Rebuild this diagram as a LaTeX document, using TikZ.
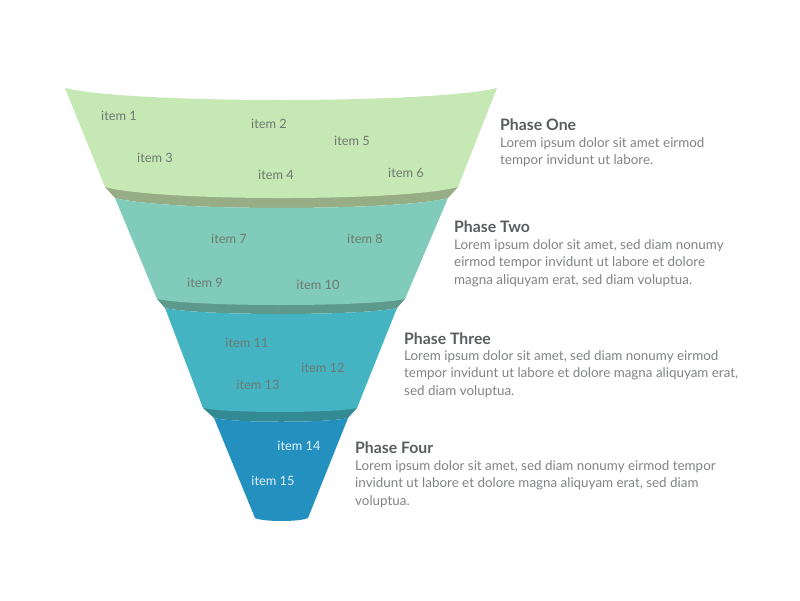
\documentclass[tikz,border=0pt]{standalone}
\usepackage{fontspec}
\setmainfont{Lato}
\usepackage{tikz}

\definecolor{segone}{HTML}{C6E8B4}
\definecolor{bandone}{HTML}{97AD86}
\definecolor{segtwo}{HTML}{80CBB9}
\definecolor{bandtwo}{HTML}{5E9A8B}
\definecolor{segthree}{HTML}{44B3C2}
\definecolor{bandthree}{HTML}{338A92}
\definecolor{segfour}{HTML}{2390C0}
\definecolor{itemgray}{HTML}{6E7A72}
\definecolor{titlegray}{HTML}{5A5D60}
\definecolor{bodygray}{HTML}{808285}

\begin{document}
\begin{tikzpicture}[x=1pt,y=-1pt,
  itemtxt/.style={inner sep=0pt,text=itemgray,font=\fontsize{12.8}{15}\selectfont},
  phasetitle/.style={anchor=base west,inner sep=0pt,text=titlegray,font=\fontsize{15.8}{18}\selectfont\bfseries},
  phasebody/.style={anchor=base west,inner sep=0pt,align=left,text=bodygray,font=\fontsize{13.4}{17.5}\selectfont}]
\useasboundingbox (0,0) rectangle (800,600);

% bands between the segments
\fill[bandone] (105,187) -- (458,187) -- (448,198)
  .. controls (397.2,211.3) and (164.8,211.3) .. (115,198) -- cycle;
\fill[bandtwo] (157,299) -- (405,299) -- (397,308)
  .. controls (362.2,316) and (199.8,316) .. (165,308) -- cycle;
\fill[bandthree] (203,408) -- (357,408) -- (348,418)
  .. controls (327.9,423) and (234.1,423) .. (214,418) -- cycle;

% funnel segments
\fill[segone] (65,88) -- (105,187)
  .. controls (158,201.7) and (405,201.7) .. (458,187) -- (497,88)
  .. controls (432.2,104) and (129.8,104) .. cycle;
\fill[segtwo] (115,198) -- (157,299)
  .. controls (194.2,307) and (367.8,307) .. (405,299) -- (448,198)
  .. controls (397.2,211.3) and (164.8,211.3) .. cycle;
\fill[segthree] (165,308) -- (203,408)
  .. controls (226.1,413.3) and (333.9,413.3) .. (357,408) -- (397,308)
  .. controls (362.2,316) and (199.8,316) .. cycle;
\fill[segfour] (214,418) -- (255,518)
  .. controls (263,522) and (300,522) .. (308,518) -- (348,418)
  .. controls (327.9,423) and (234.1,423) .. cycle;

% items
\node[itemtxt] (i1) at (119,116) {item 1};
\node[itemtxt] (i2) at (269,124) {item 2};
\node[itemtxt] (i3) at (155,158) {item 3};
\node[itemtxt] (i4) at (276,175) {item 4};
\node[itemtxt] (i5) at (352,141) {item 5};
\node[itemtxt] (i6) at (406,173) {item 6};
\node[itemtxt] (i7) at (229,239) {item 7};
\node[itemtxt] (i8) at (365,239) {item 8};
\node[itemtxt] (i9) at (205,283) {item 9};
\node[itemtxt] (i10) at (318,285) {item 10};
\node[itemtxt] (i11) at (247,343) {item 11};
\node[itemtxt] (i12) at (323,368) {item 12};
\node[itemtxt] (i13) at (258,385) {item 13};
\node[itemtxt,text=white!88!segfour] (i14) at (299,446) {item 14};
\node[itemtxt,text=white!88!segfour] (i15) at (273,481) {item 15};

% phase texts (body nodes sit on their last baseline)
\node[phasetitle] (p1) at (500,130.7) {Phase One};
\node[phasebody] (d1) at (500,164.8) {Lorem ipsum dolor sit amet eirmod\\tempor invidunt ut labore.};
\node[phasetitle] (p2) at (454,232.7) {Phase Two};
\node[phasebody] (d2) at (454,284.3) {Lorem ipsum dolor sit amet, sed diam nonumy\\eirmod tempor invidunt ut labore et dolore\\magna aliquyam erat, sed diam voluptua.};
\node[phasetitle] (p3) at (404,344) {Phase Three};
\node[phasebody] (d3) at (404,395) {Lorem ipsum dolor sit amet, sed diam nonumy eirmod\\tempor invidunt ut labore et dolore magna aliquyam erat,\\sed diam voluptua.};
\node[phasetitle] (p4) at (355,453.3) {Phase Four};
\node[phasebody] (d4) at (355,505) {Lorem ipsum dolor sit amet, sed diam nonumy eirmod tempor\\invidunt ut labore et dolore magna aliquyam erat, sed diam\\voluptua.};
\end{tikzpicture}
\end{document}
